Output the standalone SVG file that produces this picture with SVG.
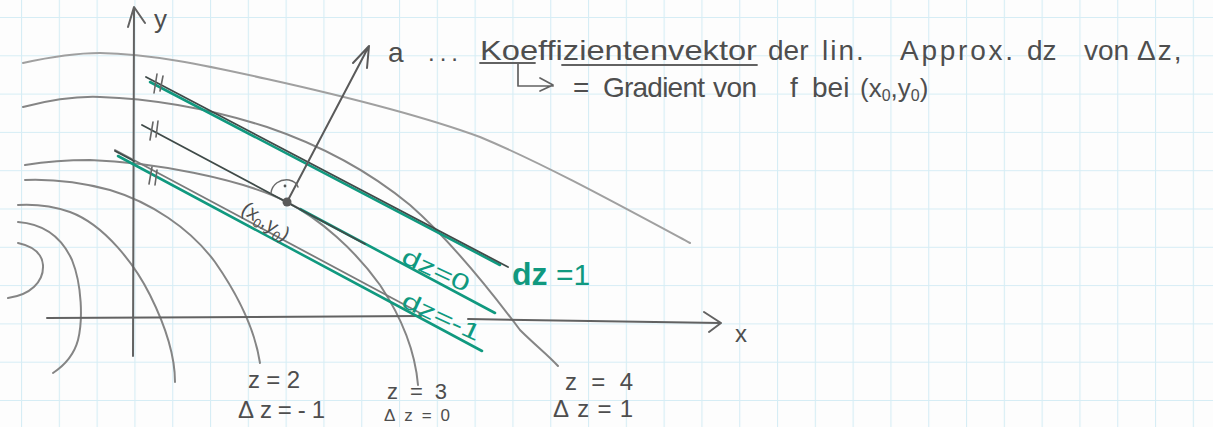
<svg xmlns="http://www.w3.org/2000/svg" width="1213" height="427" viewBox="0 0 1213 427">
<style>
.pen{fill:none;stroke:#858585;stroke-width:2;stroke-linecap:round;stroke-linejoin:round}
.light{stroke:#a0a0a0}
.axis{fill:none;stroke:#626262;stroke-width:2;stroke-linecap:round;stroke-linejoin:round}
.dark{fill:none;stroke:#3f4a48;stroke-width:1.8;stroke-linecap:round}
.grn{fill:none;stroke:#10997f;stroke-width:2.6;stroke-linecap:round}
.txt{font-family:"Liberation Sans","DejaVu Sans",sans-serif;fill:#4e4e4e}
.gtxt{font-family:"Liberation Sans","DejaVu Sans",sans-serif;fill:#10997f}
</style>
<defs>
<pattern id="grid" patternUnits="userSpaceOnUse" x="21" y="17" width="37.8" height="38.3">
<path d="M0.5,0 V38.3 M0,0.5 H37.8" stroke="#d6edf5" stroke-width="1.2" fill="none"/>
</pattern>
</defs>
<rect width="1213" height="427" fill="#fdfdfd"/>
<rect width="1213" height="427" fill="url(#grid)"/>

<g id="contours">
<path class="pen light" d="M23,63 C50,57 75,53 100,53 C150,54 200,64 267,79 C330,93 420,115 480,137 C540,162 610,200 690,243"/>
<path class="pen" d="M23,107 C50,100 75,96 100,97 C160,99 220,112 267,127 C320,145 370,172 410,205 C450,240 490,290 520,330 C535,345 548,355 558,366"/>
<path class="pen" d="M25,165 C50,161 70,160 90,160 C150,162 240,178 287,202 C320,219 355,250 380,285 C400,315 415,350 418,385"/>
<path class="pen" d="M25,180 C50,179 80,182 110,190 C150,202 190,228 215,262 C238,295 255,330 260,363"/>
<path class="pen" d="M18,205 C35,204 50,205 70,212 C105,225 135,265 150,295 C165,325 175,355 175,382"/>
<path class="pen" d="M18,222 C45,224 62,238 72,260 C82,285 83,320 78,340 C74,355 65,365 53,373"/>
<path class="pen" d="M18,243 C32,246 42,252 43,265 C44,282 30,295 8,298"/>
</g>

<g id="axes">
<path class="axis" d="M133,356 L134,8 M128,27 L134,7 L145,23"/>
<path class="axis" d="M47,318 L421,316 M468,319 L720,323 M704,312 L721,323 L709,332"/>
<text class="txt" x="154" y="28" font-size="26">y</text>
<text class="txt" x="735" y="342" font-size="24">x</text>
</g>

<g id="tangents">
<path class="grn" d="M150,82 L500,265"/>
<path class="dark" d="M146,77 L508,267"/>
<path class="grn" d="M300,209 L495,313"/>
<path class="dark" d="M142,125 L365,244"/>
<path class="pen" d="M115,150 L420,313" style="stroke:#7a7a7a;stroke-width:1.8"/>
<path class="grn" d="M118,156 L482,351"/>
<path class="dark" d="M115,151 L134,161"/>
<path class="pen" d="M157,74 L154,93 M163,76 L160,91 M153,122 L150,140 M158,121 L156,137 M152,167 L149,184 M157,170 L155,185" style="stroke:#666;stroke-width:1.6"/>
</g>

<g id="gradient-vector">
<path class="axis" d="M287,202 L369,46 M353,63 L369,46 L367,68" style="stroke:#5a5a5a"/>
<path class="pen" d="M271,193 C272,184 280,179 289,180 C294,181 297,184 298,187" style="stroke:#6a6a6a;stroke-width:1.5"/>
<circle cx="285" cy="186" r="1.4" fill="#555"/>
<circle cx="287" cy="202" r="4.5" fill="#5a5a5a"/>
<text class="txt" x="240" y="212" font-size="20" transform="rotate(34 240 212)">(x<tspan font-size="13" dy="4">0</tspan><tspan dy="-4">,y</tspan><tspan font-size="13" dy="4">0</tspan><tspan dy="-4">)</tspan></text>
</g>

<g id="green-labels">
<text class="gtxt" x="400" y="262" font-size="23" textLength="72" lengthAdjust="spacingAndGlyphs" transform="rotate(25 400 262)">dz=0</text>
<text class="gtxt" x="400" y="306" font-size="23" textLength="84" lengthAdjust="spacingAndGlyphs" transform="rotate(25 400 306)">dz=-1</text>
<text class="gtxt" x="512" y="285" font-size="32"><tspan font-weight="bold">dz</tspan><tspan x="556" font-size="30">=1</tspan></text>
</g>

<g id="annotation">
<text class="txt" x="388" y="62" font-size="28">a</text>
<text class="txt" x="428" y="61" font-size="24" textLength="30">...</text>
<text class="txt" x="480" y="60" font-size="28" textLength="277" lengthAdjust="spacingAndGlyphs">Koeffizientenvektor</text>
<path class="axis" d="M480,63 L535,63 M562,65 L757,65" style="stroke-width:1.8"/>
<text class="txt" x="768" y="60" font-size="28">der</text>
<text class="txt" x="822" y="60" font-size="28" letter-spacing="2">lin.</text>
<text class="txt" x="900" y="60" font-size="28" textLength="113">Approx.</text>
<text class="txt" x="1027" y="60" font-size="28">dz</text>
<text class="txt" x="1084" y="60" font-size="28">von</text>
<text class="txt" x="1137" y="60" font-size="28" letter-spacing="2">Δz,</text>
<path class="axis" d="M518,64 L518,86 L553,86 M540,78 L553,85 L540,91" style="stroke-width:1.7"/>
<text class="txt" x="573" y="97" font-size="28">=</text>
<text class="txt" x="603" y="97" font-size="28" textLength="102">Gradient</text>
<text class="txt" x="713" y="97" font-size="28" textLength="44">von</text>
<text class="txt" x="790" y="97" font-size="28">f</text>
<text class="txt" x="812" y="97" font-size="28">bei</text>
<text class="txt" x="860" y="97" font-size="26">(x<tspan font-size="16" dy="4">0</tspan><tspan dy="-4">,y</tspan><tspan font-size="16" dy="4">0</tspan><tspan dy="-4">)</tspan></text>
</g>

<g id="level-labels">
<text class="txt" x="248" y="388" font-size="24" textLength="52">z=2</text>
<text class="txt" x="238" y="418" font-size="24" textLength="87">Δz=-1</text>
<text class="txt" x="387" y="399" font-size="22" textLength="60">z=3</text>
<text class="txt" x="384" y="421" font-size="17" textLength="66">Δz=0</text>
<text class="txt" x="565" y="390" font-size="24" textLength="68">z=4</text>
<text class="txt" x="553" y="417" font-size="24" textLength="80">Δz=1</text>
</g>
</svg>
